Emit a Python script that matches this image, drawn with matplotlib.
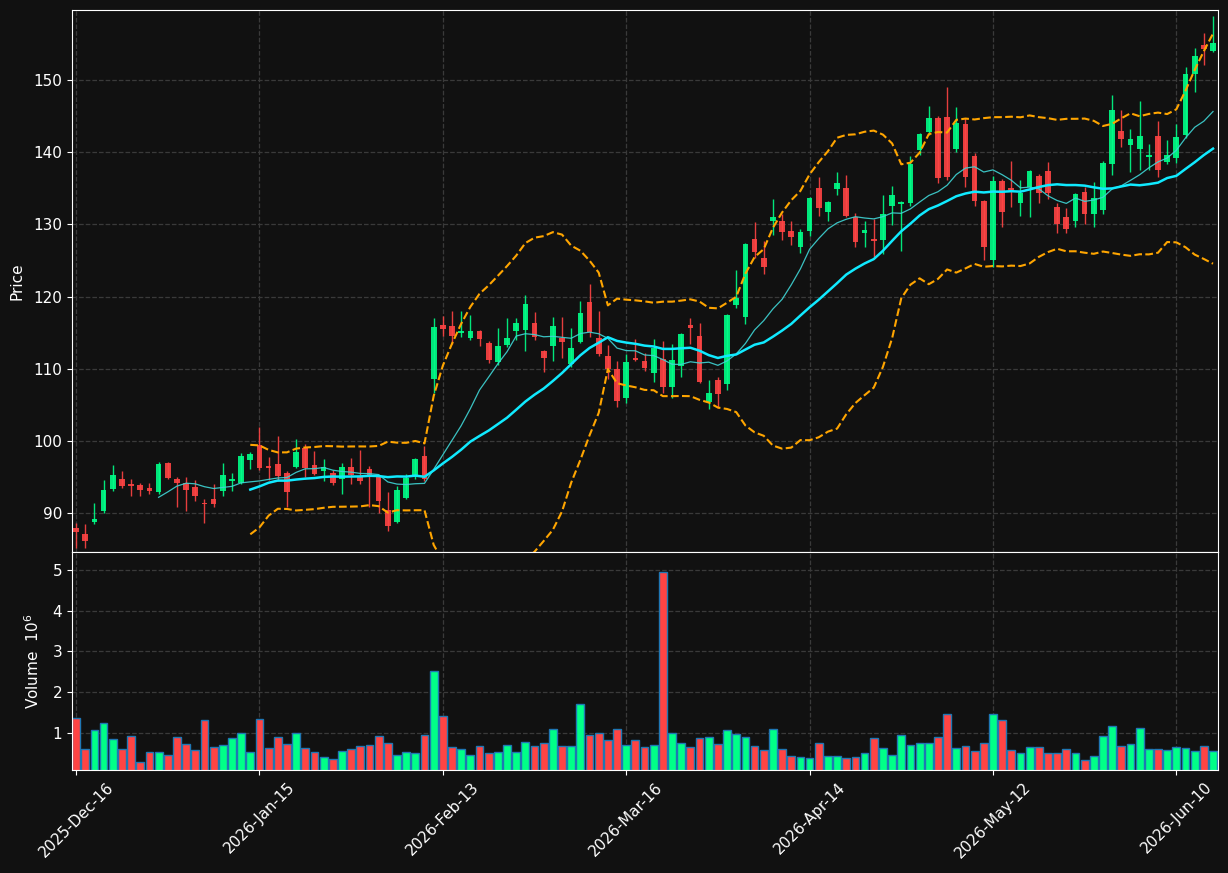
import matplotlib
matplotlib.use("Agg")
import matplotlib.pyplot as plt
import numpy as np
import pandas as pd

# trading days (US market holidays removed)
holidays = ["2025-12-25", "2026-01-01", "2026-01-19", "2026-02-16", "2026-04-03", "2026-05-25"]
dates = pd.bdate_range("2025-12-16", periods=125, freq="C", holidays=holidays)

opens = [87.97, 87.1, 88.8, 90.33, 93.37, 94.71, 94.0, 93.88, 93.47, 92.9,
         96.99, 94.7, 94.1, 93.6, 91.45, 91.95, 93.1, 94.5, 94.2, 97.35,
         99.43, 96.5, 96.8, 95.5, 96.35, 98.97, 96.65, 95.87, 95.5, 94.75,
         96.35, 95.0, 96.1, 94.95, 90.4, 88.8, 92.1, 94.95, 97.9, 108.53,
         116.05, 115.9, 114.9, 114.3, 115.2, 113.5, 110.9, 113.3, 115.2, 115.36,
         116.4, 112.45, 113.2, 114.2, 110.6, 113.75, 119.2, 114.2, 111.76, 109.96,
         106.0, 111.5, 111.1, 109.35, 111.3, 107.4, 110.4, 116.05, 114.5, 105.34,
         108.4, 107.9, 118.8, 117.2, 128.0, 125.3, 130.5, 130.46, 129.1, 126.9,
         129.1, 135.0, 131.75, 134.9, 135.1, 130.98, 128.85, 127.97, 127.8, 132.5,
         132.8, 132.9, 140.3, 142.75, 144.8, 144.9, 140.4, 143.9, 139.5, 133.2,
         125.05, 136.0, 135.0, 133.0, 135.2, 136.7, 137.4, 132.45, 131.06, 130.5,
         134.5, 131.4, 132.0, 138.36, 142.9, 141.0, 140.4, 139.4, 142.2, 138.7,
         139.2, 142.4, 150.8, 154.85, 154.0]
highs = [88.6, 88.44, 91.35, 94.6, 96.65, 95.8, 94.7, 94.1, 94.1, 97.1,
         97.1, 94.95, 94.95, 94.6, 91.95, 94.0, 96.9, 95.5, 98.3, 98.4,
         101.98, 97.8, 100.7, 95.8, 100.2, 99.5, 98.6, 97.5, 95.9, 97.0,
         97.6, 98.8, 96.5, 95.2, 92.9, 93.8, 95.4, 97.6, 99.3, 117.0,
         117.3, 118.0, 118.0, 117.5, 115.4, 113.8, 115.7, 117.0, 117.0, 120.2,
         117.8, 112.6, 117.1, 117.1, 115.6, 119.4, 121.8, 118.0, 113.3, 111.0,
         112.0, 114.1, 112.2, 114.1, 113.8, 113.4, 115.0, 117.0, 116.4, 108.5,
         108.8, 117.6, 123.7, 127.45, 130.3, 127.7, 133.5, 131.4, 130.46, 129.3,
         133.8, 136.5, 133.3, 137.3, 136.9, 131.6, 130.4, 130.8, 134.1, 135.3,
         133.2, 139.5, 142.7, 146.4, 145.0, 149.1, 146.2, 144.7, 139.9, 133.4,
         136.7, 136.3, 138.8, 136.2, 137.6, 137.0, 138.6, 133.0, 132.2, 134.4,
         135.2, 135.9, 138.8, 147.9, 145.8, 143.2, 147.1, 141.2, 144.3, 141.7,
         143.85, 151.85, 154.5, 156.55, 158.9]
lows = [85.15, 85.1, 88.44, 89.96, 93.1, 93.5, 92.4, 92.4, 92.6, 92.7,
        94.7, 90.8, 90.3, 91.6, 88.6, 90.9, 92.4, 93.1, 94.0, 96.1,
        95.96, 94.6, 94.4, 90.88, 96.2, 95.0, 95.3, 94.5, 93.9, 92.6,
        94.0, 94.0, 90.9, 90.05, 87.5, 88.6, 91.9, 94.7, 94.5, 106.6,
        114.6, 113.4, 114.4, 114.0, 113.1, 110.75, 110.5, 113.0, 114.0, 112.5,
        114.0, 109.5, 111.1, 111.5, 110.3, 113.5, 114.4, 111.8, 108.6, 104.7,
        105.3, 111.0, 109.7, 108.2, 106.6, 106.0, 108.8, 113.4, 108.0, 104.4,
        104.6, 107.0, 118.4, 116.2, 125.3, 123.1, 128.5, 127.9, 127.2, 126.1,
        128.4, 131.2, 130.5, 134.1, 131.0, 126.9, 126.9, 125.5, 125.9, 129.9,
        126.3, 132.5, 139.6, 142.4, 135.8, 136.1, 140.0, 135.2, 132.6, 125.05,
        124.05, 129.7, 132.4, 131.2, 131.0, 132.9, 133.5, 128.85, 128.85, 129.6,
        130.0, 129.6, 131.5, 136.9, 140.7, 137.2, 137.6, 137.5, 136.5, 138.3,
        138.5, 142.0, 148.4, 152.1, 153.9]
closes = [87.41, 86.17, 89.17, 93.19, 95.27, 93.74, 93.8, 93.19, 93.05, 96.8,
          94.9, 94.2, 93.2, 92.3, 91.3, 91.25, 95.27, 94.7, 97.9, 98.18,
          96.2, 96.3, 95.2, 92.96, 98.4, 96.2, 95.4, 96.35, 94.2, 96.35,
          95.3, 94.5, 94.95, 91.6, 88.25, 93.2, 94.8, 97.45, 94.67, 115.73,
          115.55, 114.57, 115.2, 115.2, 114.1, 111.2, 113.1, 114.2, 116.4, 118.96,
          114.35, 111.5, 115.9, 113.75, 112.8, 117.75, 115.05, 112.0, 109.9, 105.55,
          110.9, 111.2, 110.15, 112.8, 107.4, 111.2, 114.8, 115.7, 108.2, 106.7,
          106.5, 117.4, 119.75, 127.3, 126.2, 124.1, 130.98, 128.98, 128.3, 128.9,
          133.6, 132.3, 133.05, 135.7, 131.2, 127.6, 129.2, 127.75, 131.4, 134.1,
          133.05, 138.4, 142.5, 144.8, 136.4, 136.6, 144.1, 136.6, 133.3, 126.8,
          136.0, 131.75, 134.76, 134.3, 137.4, 134.3, 134.4, 130.05, 129.3, 134.2,
          131.4, 133.7, 138.5, 145.84, 141.8, 141.8, 142.2, 139.6, 137.5, 139.6,
          142.1, 150.8, 153.3, 154.3, 155.2]
# volume in millions
volume = [1.37, 0.61, 1.07, 1.25, 0.85, 0.61, 0.93, 0.29, 0.53, 0.53,
          0.46, 0.90, 0.73, 0.58, 1.32, 0.66, 0.70, 0.88, 1.00, 0.53,
          1.35, 0.63, 0.90, 0.73, 1.00, 0.63, 0.53, 0.41, 0.36, 0.56,
          0.61, 0.68, 0.70, 0.93, 0.75, 0.46, 0.53, 0.51, 0.95, 2.53,
          1.42, 0.66, 0.61, 0.46, 0.68, 0.51, 0.53, 0.70, 0.53, 0.78,
          0.68, 0.75, 1.10, 0.68, 0.68, 1.71, 0.95, 1.00, 0.83, 1.10,
          0.70, 0.83, 0.66, 0.70, 4.94, 1.00, 0.75, 0.66, 0.88, 0.90,
          0.73, 1.07, 0.98, 0.90, 0.68, 0.58, 1.10, 0.61, 0.43, 0.41,
          0.38, 0.76, 0.43, 0.43, 0.38, 0.41, 0.51, 0.88, 0.63, 0.46,
          0.95, 0.70, 0.75, 0.76, 0.90, 1.47, 0.63, 0.68, 0.56, 0.75,
          1.47, 1.32, 0.58, 0.51, 0.66, 0.66, 0.51, 0.51, 0.61, 0.51,
          0.33, 0.43, 0.93, 1.17, 0.68, 0.73, 1.12, 0.61, 0.61, 0.58,
          0.66, 0.63, 0.56, 0.68, 0.56]

df = pd.DataFrame({"Open": opens, "High": highs, "Low": lows,
                   "Close": closes, "Volume": volume}, index=dates)
df["ma10"] = df["Close"].rolling(10).mean()
df["ma20"] = df["Close"].rolling(20).mean()
std20 = df["Close"].rolling(20).std()
df["bb_up"] = df["ma20"] + 2 * std20
df["bb_lo"] = df["ma20"] - 2 * std20

BG = "#111111"
UP = "#00ff88"
DOWN = "#ff4444"
GRID = "#3a3a3a"

fig = plt.figure(figsize=(12.28, 8.73), dpi=100, facecolor=BG)
ax = fig.add_axes([0.0586, 0.3677, 0.9333, 0.6208])
vax = fig.add_axes([0.0586, 0.1180, 0.9333, 0.2497], sharex=ax)

x = np.arange(len(df))
up = df["Close"] >= df["Open"]
colors = np.where(up, UP, DOWN)

# candles
ax.vlines(x, df["Low"], df["High"], colors=colors, linewidth=1.0, alpha=0.9)
body = (df["Close"] - df["Open"]).abs().clip(lower=0.12)
ax.bar(x, body, bottom=df[["Open", "Close"]].min(axis=1), width=0.62,
       color=colors, alpha=0.9, linewidth=0)

# indicators
ax.plot(x, df["ma10"], color="#3fd5d5", linewidth=0.9, alpha=0.9)
ax.plot(x, df["ma20"], color="#10eaff", linewidth=1.8)
ax.plot(x, df["bb_up"], color="#ffa500", linewidth=1.5, linestyle="--")
ax.plot(x, df["bb_lo"], color="#ffa500", linewidth=1.5, linestyle="--")

# volume
vax.bar(x, df["Volume"], width=0.85, color=colors, edgecolor="#1f77b4", linewidth=1.0)

ax.set_xlim(-0.45, len(df) - 0.45)
ax.set_ylim(84.6, 159.7)
vax.set_ylim(0.09, 5.44)

ticks = list(range(0, len(df), 20))
vax.set_xticks(ticks)
vax.set_xticklabels([dates[i].strftime("%Y-%b-%d") for i in ticks],
                    rotation=45, ha="center")
plt.setp(ax.get_xticklabels(), visible=False)
ax.tick_params(axis="x", length=0)
ax.set_yticks([90, 100, 110, 120, 130, 140, 150])
vax.set_yticks([1, 2, 3, 4, 5])

for a in (ax, vax):
    a.set_facecolor(BG)
    a.grid(True, color=GRID, linestyle="--", linewidth=0.9)
    a.set_axisbelow(True)
    for s in a.spines.values():
        s.set_color("white")
    a.tick_params(colors="white", labelsize=11)

ax.set_ylabel("Price", color="white", fontsize=11)
vax.set_ylabel("Volume  $10^{6}$", color="white", fontsize=11)
ax.yaxis.set_label_coords(-0.041, 0.5)
vax.yaxis.set_label_coords(-0.026, 0.5)

fig.savefig("out.png", facecolor=BG)
